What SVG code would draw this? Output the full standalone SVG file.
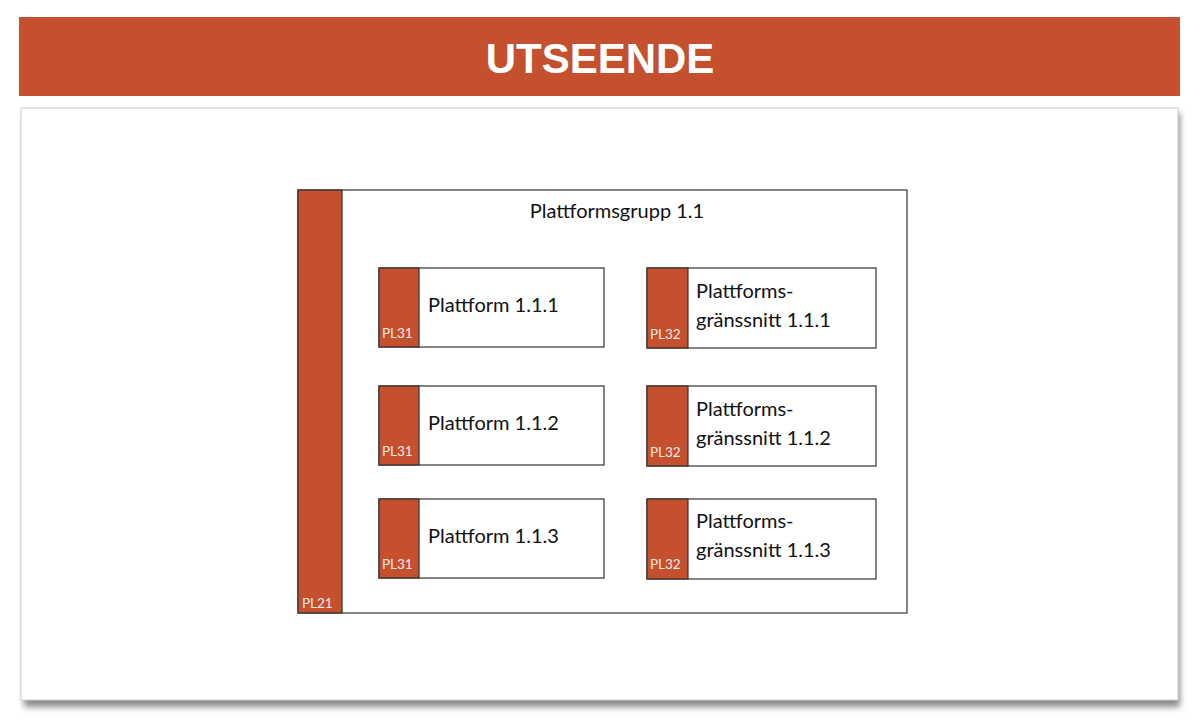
<svg xmlns="http://www.w3.org/2000/svg" width="1200" height="727" viewBox="0 0 1200 727">
<style>
.or{fill:#C4502E;stroke:#333;stroke-width:1.2}
.bx{fill:#fff;stroke:#333;stroke-width:1.2}
.t{font-family:Lato,"Liberation Sans",sans-serif;font-size:20px;fill:#111}
.c{font-family:Lato,"Liberation Sans",sans-serif;font-size:13.5px;fill:#f6e9e2}
</style>
<defs>
<filter id="sh" x="-5%" y="-5%" width="110%" height="115%">
<feGaussianBlur stdDeviation="3"/>
</filter>
</defs>
<rect width="1200" height="727" fill="#fff"/>
<g id="header">
<rect x="19" y="17" width="1161" height="79" fill="#C4502E"/>
<text x="600" y="73" text-anchor="middle" font-family="Liberation Sans,Arial,sans-serif" font-weight="bold" font-size="42" fill="#fff">UTSEENDE</text>
</g>
<g id="panel">
<rect x="24" y="113" width="1156" height="594" fill="#8a8a8a" filter="url(#sh)"/>
<rect x="21" y="108" width="1157" height="592" fill="#fff" stroke="#cfcfcf" stroke-width="1"/>
</g>
<g id="group">
<rect class="bx" x="298" y="190" width="609" height="423"/>
<rect class="or" x="298" y="190" width="44" height="423"/>
<text class="t" x="617" y="218" text-anchor="middle">Plattformsgrupp 1.1</text>
<text class="c" x="302" y="608">PL21</text>
</g>
<g id="p111">
<rect class="bx" x="379" y="268" width="225" height="79"/>
<rect class="or" x="379" y="268" width="40" height="79"/>
<text class="t" x="428" y="312">Plattform 1.1.1</text>
<text class="c" x="382" y="338">PL31</text>
</g>
<g id="p112">
<rect class="bx" x="379" y="386" width="225" height="79"/>
<rect class="or" x="379" y="386" width="40" height="79"/>
<text class="t" x="428" y="430">Plattform 1.1.2</text>
<text class="c" x="382" y="456">PL31</text>
</g>
<g id="p113">
<rect class="bx" x="379" y="499" width="225" height="79"/>
<rect class="or" x="379" y="499" width="40" height="79"/>
<text class="t" x="428" y="543">Plattform 1.1.3</text>
<text class="c" x="382" y="569">PL31</text>
</g>
<g id="g111">
<rect class="bx" x="647" y="268" width="229" height="80"/>
<rect class="or" x="647" y="268" width="41" height="80"/>
<text class="t" x="696" y="298">Plattforms-</text>
<text class="t" x="696" y="327">gränssnitt 1.1.1</text>
<text class="c" x="650" y="339">PL32</text>
</g>
<g id="g112">
<rect class="bx" x="647" y="386" width="229" height="80"/>
<rect class="or" x="647" y="386" width="41" height="80"/>
<text class="t" x="696" y="416">Plattforms-</text>
<text class="t" x="696" y="445">gränssnitt 1.1.2</text>
<text class="c" x="650" y="457">PL32</text>
</g>
<g id="g113">
<rect class="bx" x="647" y="499" width="229" height="80"/>
<rect class="or" x="647" y="499" width="41" height="80"/>
<text class="t" x="696" y="528">Plattforms-</text>
<text class="t" x="696" y="557">gränssnitt 1.1.3</text>
<text class="c" x="650" y="569">PL32</text>
</g>
<g id="connectors"></g>
</svg>
